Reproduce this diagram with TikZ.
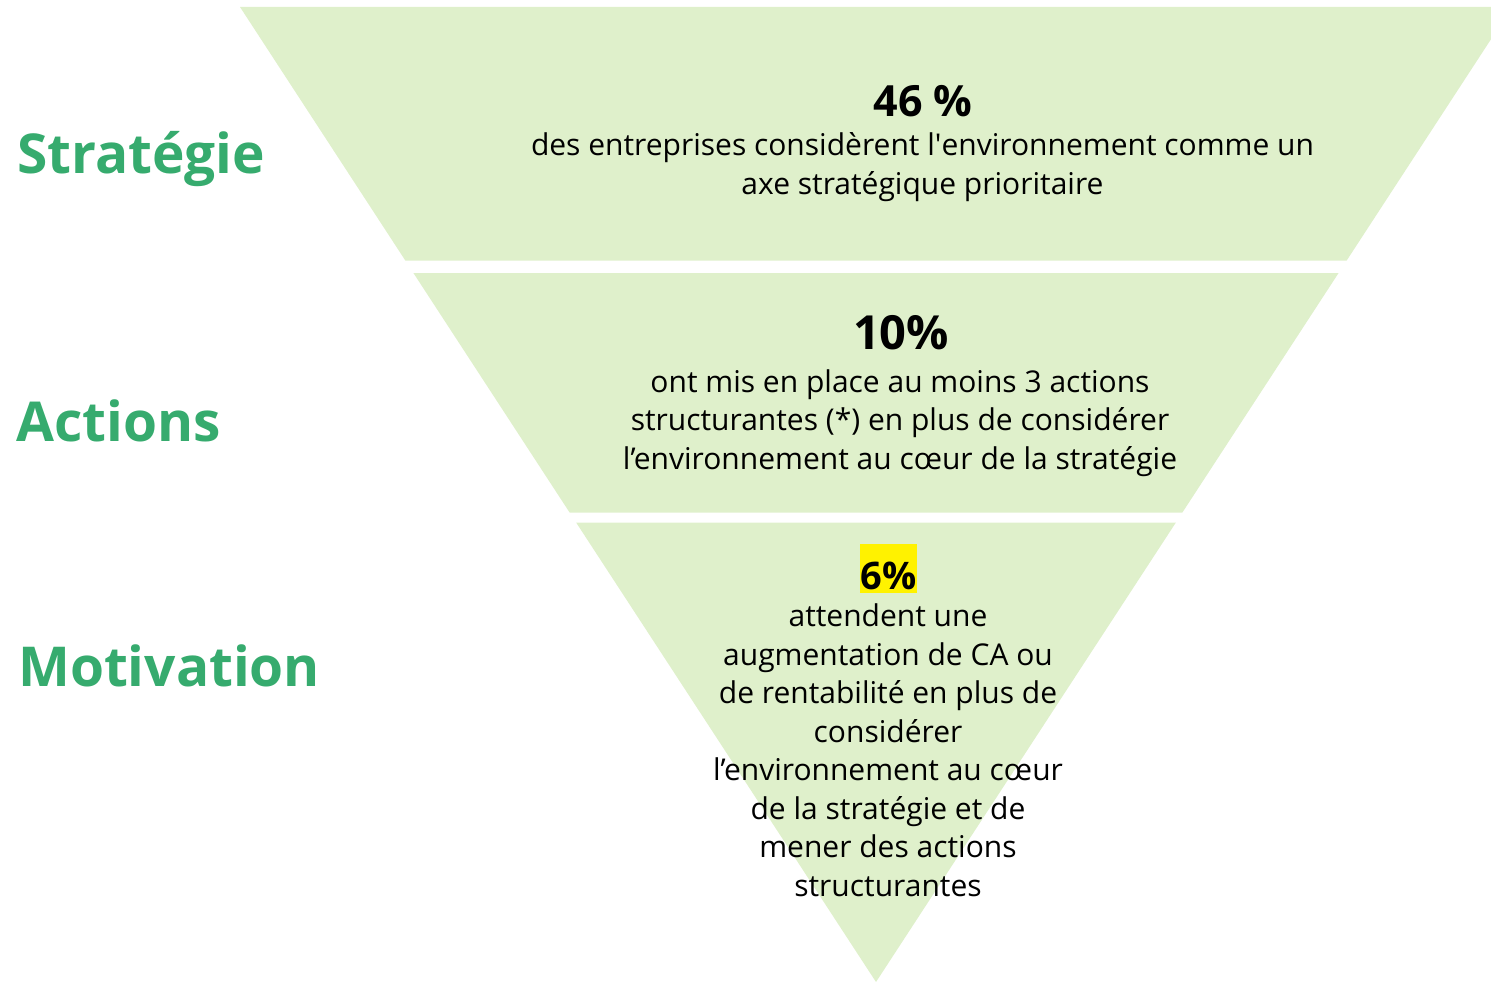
\documentclass[tikz,border=0pt]{standalone}
\usepackage{fontspec}
\setmainfont{Open Sans}
\usetikzlibrary{positioning}
\definecolor{bandgreen}{RGB}{223,240,203}
\definecolor{levelgreen}{RGB}{54,171,110}
\tikzstyle{band} = [fill=bandgreen]
\tikzstyle{level} = [anchor=base west, inner sep=0pt, text=levelgreen, font=\fontsize{55}{55}\selectfont\bfseries]
\tikzstyle{pct} = [anchor=base, inner sep=0pt, font=\bfseries]
\tikzstyle{txt} = [anchor=base, inner sep=0pt, align=center, font=\fontsize{30}{38.5}\selectfont]

\begin{document}
\begin{tikzpicture}[x=1pt,y=-1pt]
  \clip (0,0) rectangle (1491,982);
  % funnel bands
  \fill [band] (240,7) -- (1512,7) -- (1346.7,260.5) -- (405.3,260.5) -- cycle;
  \fill [band] (413.4,273) -- (1338.6,273) -- (1182.4,512.5) -- (569.6,512.5) -- cycle;
  \fill [band] (576.1,522.5) -- (1175.9,522.5) -- (876,982) -- cycle;
  % levels
  \node (strat) at (17,173) [level] {Stratégie};
  \node (act) at (16,441.7) [level] {Actions};
  \node (motiv) at (18,686.7) [level] {Motivation};
  % figures (text nodes sit on their last baseline)
  \node (pctA) at (923,116) [pct, font=\fontsize{43}{43}\selectfont\bfseries] {46 \%};
  \node (txtA) at (922.5,194) [txt] {des entreprises considèrent l\textquotesingle environnement comme un\\axe stratégique prioritaire};
  \node (pctB) at (901,349) [pct, font=\fontsize{47}{47}\selectfont\bfseries] {10\%};
  \node (txtB) at (900,469) [txt] {ont mis en place au moins 3 actions\\structurantes (*) en plus de considérer\\l’environnement au cœur de la stratégie};
  \node (pctC) at (888.5,589) [pct, font=\fontsize{38}{38}\selectfont\bfseries, fill=yellow, inner xsep=1pt, text height=45pt, text depth=4pt] {6\%};
  \node (txtC) at (888,896) [txt] {attendent une\\augmentation de CA ou\\de rentabilité en plus de\\considérer\\l’environnement au cœur\\de la stratégie et de\\mener des actions\\structurantes};
\end{tikzpicture}
\end{document}
